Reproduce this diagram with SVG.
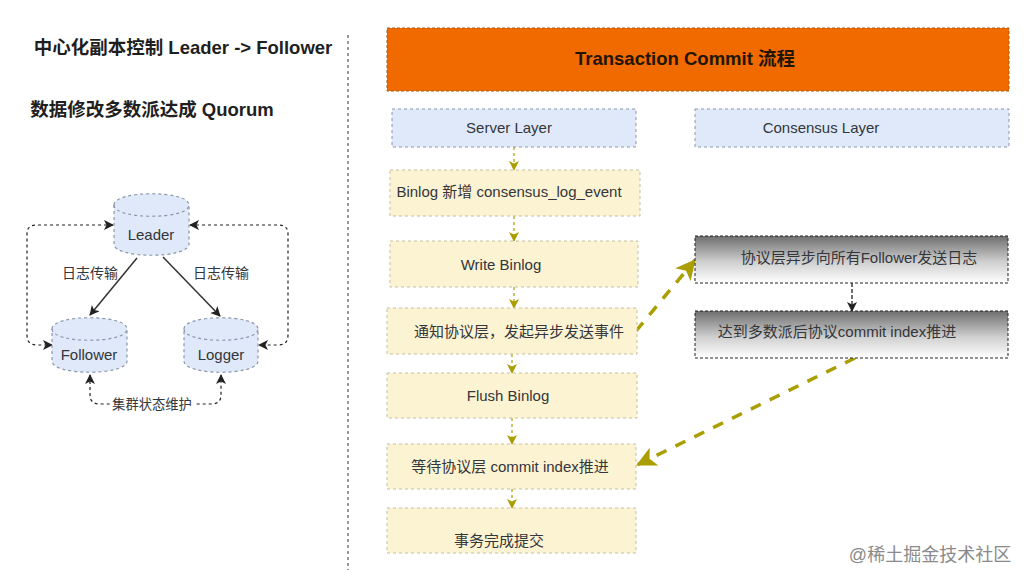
<svg xmlns="http://www.w3.org/2000/svg" width="1028" height="584" viewBox="0 0 1028 584">
<defs>
<linearGradient id="g" x1="0" y1="0" x2="0" y2="1"><stop offset="0" stop-color="#6e6e6e"/><stop offset="0.55" stop-color="#cfcfcf"/><stop offset="1" stop-color="#ffffff"/></linearGradient>
<marker id="ab" markerWidth="12" markerHeight="12" refX="9" refY="5" orient="auto" markerUnits="userSpaceOnUse"><path d="M0 0L10 5L0 10L2.5 5Z" fill="#222"/></marker>
<marker id="abs" markerWidth="12" markerHeight="12" refX="9" refY="5" orient="auto-start-reverse" markerUnits="userSpaceOnUse"><path d="M0 0L10 5L0 10L2.5 5Z" fill="#222"/></marker>
<marker id="ao" markerWidth="12" markerHeight="12" refX="9" refY="5" orient="auto" markerUnits="userSpaceOnUse"><path d="M0 0L10 5L0 10L2.5 5Z" fill="#aa9e00"/></marker>
<marker id="aO" markerWidth="24" markerHeight="24" refX="19" refY="10" orient="auto" markerUnits="userSpaceOnUse"><path d="M0 0L20 10L0 20L5 10Z" fill="#aa9e00"/></marker>
</defs>
<style>
text{font-family:"Liberation Sans","Noto Sans CJK SC",sans-serif;font-size:15px;fill:#33363b;text-anchor:middle}
.h{font-size:18.5px;font-weight:bold;fill:#1f1f1f}
.blue{fill:#dfe9f9;stroke:#8a97a8;stroke-dasharray:3 3}
.yel{fill:#fcf3d2;stroke:#c5bfa0;stroke-dasharray:3 3}
.gray{fill:url(#g);stroke:#222;stroke-dasharray:3 2}
.db{fill:#dfe9f9;stroke:#8a97a8;stroke-dasharray:3 3;stroke-width:1.2}
.dbl{fill:none;stroke:#8a97a8;stroke-dasharray:3 3;stroke-width:1.2}
.c{fill:none;stroke:#222;stroke-width:1.2;stroke-dasharray:3 3}
.o{fill:none;stroke:#aa9e00;stroke-width:1.2;stroke-dasharray:3 3}
.O{fill:none;stroke:#aa9e00;stroke-width:3.5;stroke-dasharray:11 10}
.s{fill:none;stroke:#333;stroke-width:1.5}
</style>
<rect width="1028" height="584" fill="#fff"/>
<g id="title-left">
<text class="h" x="183" y="54">中心化副本控制 Leader -&gt; Follower</text>
<text class="h" x="152" y="116">数据修改多数派达成 Quorum</text>
</g>
<line id="divider" x1="348" y1="35" x2="348" y2="570" stroke="#333" stroke-width="1" stroke-dasharray="3 3"/>
<g id="connectors">
<path class="s" d="M137 258L90 315" marker-end="url(#ab)"/>
<path class="s" d="M163 257L220 316" marker-end="url(#ab)"/>
<path class="c" d="M113 225H36Q27 225 27 234V335Q27 345 37 345H52" marker-end="url(#abs)" marker-start="url(#abs)"/>
<path class="c" d="M190 225H279Q288 225 288 234V335Q288 345 278 345H259" marker-end="url(#abs)" marker-start="url(#abs)"/>
<path class="c" d="M90 375V395Q90 404 100 404H211Q221 404 221 395V375" marker-end="url(#abs)" marker-start="url(#abs)"/>
<path class="o" d="M514 147V170" marker-end="url(#ao)"/>
<path class="o" d="M514 216V241" marker-end="url(#ao)"/>
<path class="o" d="M514 287V308" marker-end="url(#ao)"/>
<path class="o" d="M512 354V373" marker-end="url(#ao)"/>
<path class="o" d="M512 418V444" marker-end="url(#ao)"/>
<path class="o" d="M512 489V508" marker-end="url(#ao)"/>
<path class="O" d="M636 331L695 260" marker-end="url(#aO)"/>
<path class="O" d="M855 358L637 465" marker-end="url(#aO)"/>
<path d="M852 283V311" fill="none" stroke="#111" stroke-width="1.2" stroke-dasharray="4 2" marker-end="url(#ab)"/>
</g>
<g id="leader">
<path class="db" d="M114 205C114 190 189 190 189 205V244C189 259 114 259 114 244Z"/>
<path class="dbl" d="M114 205C114 220 189 220 189 205"/>
<text x="151" y="240">Leader</text>
</g>
<g id="follower">
<path class="db" d="M52 329C52 314 127 314 127 329V361C127 376 52 376 52 361Z"/>
<path class="dbl" d="M52 329C52 344 127 344 127 329"/>
<text x="89" y="360">Follower</text>
</g>
<g id="logger">
<path class="db" d="M184 329C184 314 258 314 258 329V361C258 376 184 376 184 361Z"/>
<path class="dbl" d="M184 329C184 344 258 344 258 329"/>
<text x="221" y="360">Logger</text>
</g>
<g id="labels">
<text x="90" y="278" style="font-size:14px">日志传输</text>
<text x="221" y="278" style="font-size:14px">日志传输</text>
<rect x="110" y="397" width="84" height="15" fill="#fff"/>
<text x="152" y="409" style="font-size:13.3px">集群状态维护</text>
</g>
<g id="header">
<rect x="387" y="28" width="622" height="63" fill="#f06a00" stroke="#a85a10" stroke-dasharray="3 2"/>
<text class="h" x="685" y="65" style="fill:#231505">Transaction Commit 流程</text>
</g>
<g id="server-layer"><rect class="blue" x="392" y="109" width="244" height="38"/><text x="509" y="133">Server Layer</text></g>
<g id="consensus-layer"><rect class="blue" x="695" y="109" width="314" height="38"/><text x="821" y="133">Consensus Layer</text></g>
<g id="binlog-event"><rect class="yel" x="390" y="170" width="250" height="46"/><text x="509" y="197">Binlog 新增 consensus_log_event</text></g>
<g id="write-binlog"><rect class="yel" x="390" y="241" width="248" height="46"/><text x="501" y="270">Write Binlog</text></g>
<g id="notify"><rect class="yel" x="387" y="308" width="250" height="46"/><text x="519" y="337">通知协议层，发起异步发送事件</text></g>
<g id="flush-binlog"><rect class="yel" x="387" y="373" width="250" height="45"/><text x="508" y="401">Flush Binlog</text></g>
<g id="wait"><rect class="yel" x="387" y="444" width="249" height="45"/><text x="510" y="472">等待协议层 commit index推进</text></g>
<g id="done"><rect class="yel" x="387" y="508" width="249" height="45"/><text x="499" y="546">事务完成提交</text></g>
<g id="send-log"><rect class="gray" x="695" y="236" width="313" height="47"/><text x="859" y="263">协议层异步向所有Follower发送日志</text></g>
<g id="commit-index"><rect class="gray" x="695" y="311" width="313" height="47"/><text x="837" y="337">达到多数派后协议commit index推进</text></g>
<text x="930" y="561" style="font-size:18px;fill:#8a8a8a">@稀土掘金技术社区</text>
</svg>
